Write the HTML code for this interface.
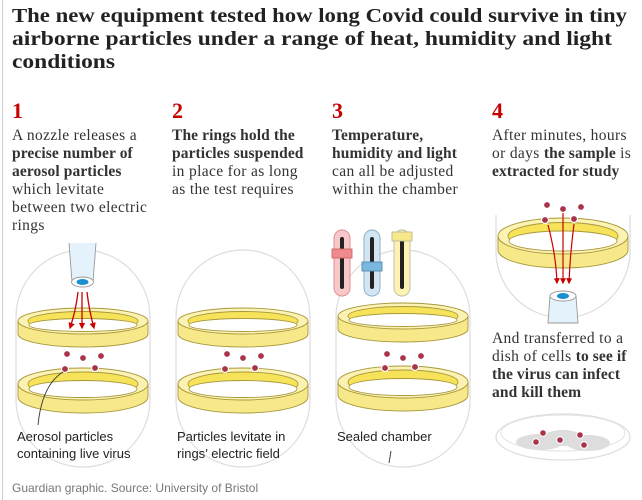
<!DOCTYPE html>
<html><head><meta charset="utf-8"><style>
html,body{margin:0;padding:0;background:#fff;}
svg{display:block;}
.t{font-family:"Liberation Serif",serif;font-weight:bold;font-size:20px;fill:#222;}
.n{font-family:"Liberation Serif",serif;font-weight:bold;font-size:22px;fill:#c70000;}
.b{font-family:"Liberation Serif",serif;font-size:15.5px;letter-spacing:0.35px;fill:#333;}
.b tspan.k{font-weight:bold;letter-spacing:0.1px;}
.s{font-family:"Liberation Sans",sans-serif;font-size:13px;fill:#222;}
.f{font-family:"Liberation Sans",sans-serif;font-size:12px;fill:#777;}
</style></head><body>
<svg width="642" height="500" viewBox="0 0 642 500" xmlns="http://www.w3.org/2000/svg">
<defs>
<marker id="ar" viewBox="0 0 10 10" refX="8" refY="5" markerWidth="5" markerHeight="5" orient="auto"><path d="M0,0 L10,5 L0,10 z" fill="#c00"/></marker>
</defs>
<line x1="2.5" y1="0" x2="2.5" y2="500" stroke="#ccc" stroke-width="1"/>
<text class="t" x="12" y="22" textLength="615" lengthAdjust="spacingAndGlyphs">The new equipment tested how long Covid could survive in tiny</text>
<text class="t" x="12" y="45" textLength="600" lengthAdjust="spacingAndGlyphs">airborne particles under a range of heat, humidity and light</text>
<text class="t" x="12" y="68" textLength="103" lengthAdjust="spacingAndGlyphs">conditions</text>

<text class="n" x="12" y="118">1</text>
<text class="n" x="172" y="118">2</text>
<text class="n" x="332" y="118">3</text>
<text class="n" x="492" y="118">4</text>

<text class="b"><tspan x="12" y="140">A nozzle releases a</tspan><tspan x="12" y="158" class="k">precise number of</tspan><tspan x="12" y="176" class="k">aerosol particles</tspan><tspan x="12" y="194">which levitate</tspan><tspan x="12" y="212">between two electric</tspan><tspan x="12" y="230">rings</tspan></text>
<text class="b"><tspan x="172" y="140" class="k">The rings hold the</tspan><tspan x="172" y="158" class="k">particles suspended</tspan><tspan x="172" y="176">in place for as long</tspan><tspan x="172" y="194">as the test requires</tspan></text>
<text class="b"><tspan x="332" y="140" class="k">Temperature,</tspan><tspan x="332" y="158" class="k">humidity and light</tspan><tspan x="332" y="176">can all be adjusted</tspan><tspan x="332" y="194">within the chamber</tspan></text>
<text class="b"><tspan x="492" y="140">After minutes, hours</tspan><tspan x="492" y="158">or days <tspan class="k">the sample</tspan> is</tspan><tspan x="492" y="176" class="k">extracted for study</tspan></text>
<text class="b"><tspan x="492" y="343">And transferred to a</tspan><tspan x="492" y="361">dish of cells <tspan class="k">to see if</tspan></tspan><tspan x="492" y="379" class="k">the virus can infect</tspan><tspan x="492" y="397" class="k">and kill them</tspan></text>

<g fill="none" stroke="#ddd" stroke-width="1.2">
<rect x="16" y="250" width="134" height="217" rx="67"/>
<rect x="176" y="250" width="134" height="217" rx="67"/>
<rect x="336" y="250" width="134" height="217" rx="67"/>
<path d="M496 215 L496 251 A67 67 0 0 0 630 251 L630 215"/>
</g>

<g stroke="#a8993c" stroke-width="0.9">
<g transform="translate(83,321)">
<path d="M-65 0 L-65 13 A65 13 0 0 0 65 13 L65 0 Z" fill="#f7e98a"/>
<ellipse rx="65" ry="13" fill="#fcf2b4"/>
<ellipse cy="0" rx="55" ry="9.5" fill="#f6e35a"/>
<ellipse cy="4" rx="54" ry="6.5" fill="#fff"/>
</g>
<g transform="translate(83,384)">
<path d="M-65 0 L-65 13 A65 16 0 0 0 65 13 L65 0 Z" fill="#f7e98a"/>
<ellipse rx="65" ry="16" fill="#fcf2b4"/>
<ellipse cy="0" rx="55" ry="12" fill="#f6e35a"/>
<ellipse cy="5" rx="54" ry="8.5" fill="#fff"/>
</g>
<g transform="translate(243,321)">
<path d="M-65 0 L-65 13 A65 13 0 0 0 65 13 L65 0 Z" fill="#f7e98a"/>
<ellipse rx="65" ry="13" fill="#fcf2b4"/>
<ellipse cy="0" rx="55" ry="9.5" fill="#f6e35a"/>
<ellipse cy="4" rx="54" ry="6.5" fill="#fff"/>
</g>
<g transform="translate(243,384)">
<path d="M-65 0 L-65 13 A65 16 0 0 0 65 13 L65 0 Z" fill="#f7e98a"/>
<ellipse rx="65" ry="16" fill="#fcf2b4"/>
<ellipse cy="0" rx="55" ry="12" fill="#f6e35a"/>
<ellipse cy="5" rx="54" ry="8.5" fill="#fff"/>
</g>
<g transform="translate(403,316)">
<path d="M-65 0 L-65 13 A65 13 0 0 0 65 13 L65 0 Z" fill="#f7e98a"/>
<ellipse rx="65" ry="13" fill="#fcf2b4"/>
<ellipse cy="0" rx="55" ry="9.5" fill="#f6e35a"/>
<ellipse cy="4" rx="54" ry="6.5" fill="#fff"/>
</g>
<g transform="translate(403,382)">
<path d="M-65 0 L-65 13 A65 16 0 0 0 65 13 L65 0 Z" fill="#f7e98a"/>
<ellipse rx="65" ry="16" fill="#fcf2b4"/>
<ellipse cy="0" rx="55" ry="12" fill="#f6e35a"/>
<ellipse cy="5" rx="54" ry="8.5" fill="#fff"/>
</g>
<g transform="translate(563,236)">
<path d="M-65 0 L-65 14 A65 18 0 0 0 65 14 L65 0 Z" fill="#f7e98a"/>
<ellipse rx="65" ry="18" fill="#fcf2b4"/>
<ellipse cy="0" rx="55" ry="13.5" fill="#f6e35a"/>
<ellipse cy="5" rx="54" ry="10" fill="#fff"/>
</g>
</g>

<path d="M69 243 L72 282 L93 282 L96 243" fill="#e4f2fb" stroke="#999" stroke-width="0.9"/>
<ellipse cx="82.5" cy="282" rx="11" ry="5" fill="#fff" stroke="#999" stroke-width="0.9"/>
<ellipse cx="82.5" cy="282" rx="6" ry="3" fill="#1b8fd0"/>
<g stroke="#c00" stroke-width="1.3" fill="none" marker-end="url(#ar)">
<path d="M78 292 Q76 310 70 328"/>
<path d="M82 292 L82 328"/>
<path d="M87 292 Q89 310 94 328"/>
</g>

<g fill="#a8344a" stroke="#fff" stroke-width="1.2">
<circle cx="67" cy="354" r="3.5"/><circle cx="83" cy="358" r="3.5"/><circle cx="101" cy="356" r="3.5"/>
<circle cx="65" cy="369" r="3.5"/><circle cx="95" cy="368" r="3.5"/>
<circle cx="227" cy="354" r="3.5"/><circle cx="243" cy="358" r="3.5"/><circle cx="261" cy="356" r="3.5"/>
<circle cx="225" cy="369" r="3.5"/><circle cx="255" cy="368" r="3.5"/>
<circle cx="387" cy="354" r="3.5"/><circle cx="403" cy="358" r="3.5"/><circle cx="421" cy="356" r="3.5"/>
<circle cx="385" cy="368" r="3.5"/><circle cx="415" cy="367" r="3.5"/>
<circle cx="547" cy="205" r="3.5"/><circle cx="563" cy="209" r="3.5"/><circle cx="581" cy="207" r="3.5"/>
<circle cx="545" cy="220" r="3.5"/><circle cx="574" cy="219" r="3.5"/>
</g>
<path d="M63 372 Q42 385 38 425" fill="none" stroke="#333" stroke-width="0.9"/>

<g stroke-width="0.9">
<rect x="334" y="230" width="16" height="66" rx="8" fill="#f7c7c9" stroke="#d88"/>
<rect x="364" y="230" width="16" height="66" rx="8" fill="#d2e5f4" stroke="#8ab"/>
<rect x="394" y="230" width="16" height="66" rx="8" fill="#fdf3b0" stroke="#bba"/>
<rect x="340" y="237" width="4" height="52" rx="2" fill="#222"/>
<rect x="370" y="237" width="4" height="52" rx="2" fill="#222"/>
<rect x="400" y="237" width="4" height="52" rx="2" fill="#222"/>
<rect x="332" y="249" width="20" height="9" fill="#f08a8f" stroke="#c66"/>
<rect x="362" y="262" width="20" height="9" fill="#7ab8e0" stroke="#58a"/>
<rect x="392" y="232" width="20" height="9" fill="#f7e98a" stroke="#bb9"/>
</g>

<g stroke="#c00" stroke-width="1.2" fill="none">
<path d="M548 225 Q556 255 557 283" marker-end="url(#ar)"/>
<path d="M563 213 L563 283" marker-end="url(#ar)"/>
<path d="M574 224 Q570 255 569 283" marker-end="url(#ar)"/>
</g>
<path d="M550 296 L548 323 L578 323 L576 296" fill="#e4f2fb" stroke="#999" stroke-width="0.9"/>
<ellipse cx="563" cy="296" rx="13" ry="5" fill="#fff" stroke="#999" stroke-width="0.9"/>
<ellipse cx="563" cy="296" rx="6" ry="3" fill="#1b8fd0"/>

<ellipse cx="563" cy="437" rx="67" ry="23" fill="#fff" stroke="#ddd" stroke-width="1.2"/>
<ellipse cx="563" cy="433" rx="62" ry="18" fill="#fff" stroke="#e4e4e4" stroke-width="1"/>
<g fill="#ddd">
<ellipse cx="540" cy="442" rx="24" ry="8"/><ellipse cx="563" cy="438" rx="20" ry="8"/><ellipse cx="588" cy="443" rx="22" ry="8"/>
</g>
<g fill="#a8344a" stroke="#fff" stroke-width="1">
<circle cx="543" cy="433" r="3.3"/><circle cx="536" cy="442" r="3.3"/><circle cx="560" cy="440" r="3.3"/><circle cx="580" cy="435" r="3.3"/><circle cx="584" cy="445" r="3.3"/>
</g>

<text class="s"><tspan x="17" y="441">Aerosol particles</tspan><tspan x="17" y="458">containing live virus</tspan></text>
<text class="s"><tspan x="177" y="441">Particles levitate in</tspan><tspan x="177" y="458">rings’ electric field</tspan></text>
<text class="s" x="337" y="441">Sealed chamber</text>
<line x1="391" y1="451" x2="389" y2="463" stroke="#333" stroke-width="0.9"/>

<text class="f" x="12" y="492">Guardian graphic. Source: University of Bristol</text>
</svg>
</body></html>
